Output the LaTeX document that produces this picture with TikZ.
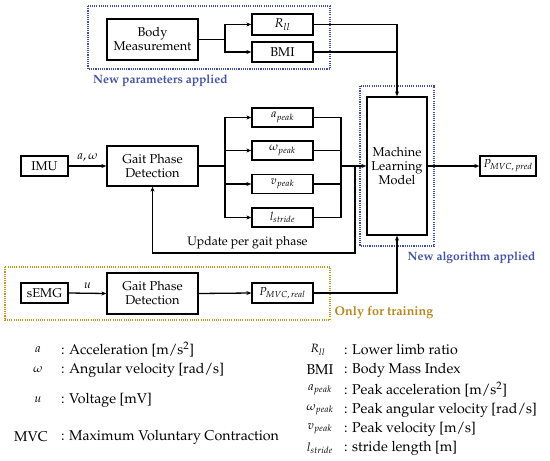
\documentclass[tikz,border=0pt]{standalone}
\usepackage[T1]{fontenc}
\usepackage{mathpazo}
\usetikzlibrary{arrows.meta}
\definecolor{bluedot}{HTML}{3F4FA8}
\definecolor{bluetxt}{HTML}{4455A8}
\definecolor{golddot}{HTML}{C4961E}
\definecolor{goldtxt}{HTML}{B8861A}
\tikzset{
  blk/.style={draw, line width=1.3pt, inner sep=0pt, align=center, font=\fontsize{12.8}{14}\selectfont},
  arr/.style={line width=1.3pt, -{Stealth[length=5pt,width=4pt]}},
  ln/.style={line width=1.3pt},
  bdot/.style={draw=bluedot, line width=1.4pt, dash pattern=on 1.1pt off 1.1pt},
  gdot/.style={draw=golddot, line width=1.4pt, dash pattern=on 1.1pt off 1.1pt},
  lbl/.style={font=\fontsize{12}{13}\selectfont, inner sep=0pt},
  grp/.style={font=\bfseries\fontsize{12}{13}\selectfont, inner sep=0pt},
  sym/.style={font=\fontsize{12}{13}\selectfont, inner sep=0pt},
  desc/.style={font=\fontsize{14.2}{15}\selectfont, inner sep=0pt, anchor=west},
}
\begin{document}
\begin{tikzpicture}[x=1pt,y=-1pt]
\useasboundingbox (0,0) rectangle (550,461);
% group frames
\draw[bdot] (88,6) rectangle (330,69);
\draw[bdot] (360,86) rectangle (434,246);
\draw[gdot] (5,267) rectangle (330,320);
\node[grp, text=bluetxt] (np) at (160.5,81) {New parameters applied};
\node[grp, text=bluetxt] (na) at (471.5,258) {New algorithm applied};
\node[grp, text=goldtxt, font=\bfseries\fontsize{12.6}{13}\selectfont] (ot) at (384,313) {Only for training};
% blocks
\node[blk, minimum width=91pt, minimum height=41pt] (bm) at (152.5,39.5) {Body\\Measurement};
\node[blk, minimum width=61pt, minimum height=21pt] (rll) at (282.5,24.5) {$R_{ll}$};
\node[blk, minimum width=61pt, minimum height=20pt] (bmi) at (282.5,52) {BMI};
\node[blk, minimum width=60pt, minimum height=138pt] (ml) at (397,166) {Machine\\Learning\\Model};
\node[blk, minimum width=56pt, minimum height=20pt, font=\fontsize{11.5}{13}\selectfont] (pp) at (508,166) {$P_{MVC,\,pred}$};
\node[blk, minimum width=61pt, minimum height=19pt, font=\fontsize{11.5}{13}\selectfont] (ap) at (282.5,117.5) {$a_{peak}$};
\node[blk, minimum width=61pt, minimum height=19pt, font=\fontsize{11.5}{13}\selectfont] (wp) at (282.5,150.5) {$\omega_{peak}$};
\node[blk, minimum width=61pt, minimum height=19pt, font=\fontsize{11.5}{13}\selectfont] (vp) at (282.5,184) {$v_{peak}$};
\node[blk, minimum width=61pt, minimum height=19pt, font=\fontsize{11.5}{13}\selectfont] (lp) at (282.5,217.5) {$l_{stride}$};
\node[blk, minimum width=47pt, minimum height=20pt] (imu) at (44.5,166) {IMU};
\node[blk, minimum width=91pt, minimum height=40pt] (g1) at (152.5,166) {Gait Phase\\Detection};
\node[blk, minimum width=47pt, minimum height=20pt] (semg) at (44.5,293) {sEMG};
\node[blk, minimum width=91pt, minimum height=41pt] (g2) at (152.5,293.5) {Gait Phase\\Detection};
\node[blk, minimum width=61pt, minimum height=20pt, font=\fontsize{11.5}{13}\selectfont] (pr) at (282.5,293) {$P_{MVC,\,real}$};
% coordinates
\coordinate (b1) at (225,39.5);
\coordinate (b2) at (225,166);
\coordinate (c1) at (341,166);
\coordinate (f1) at (355,166);
\coordinate (f2) at (355,253);
\coordinate (m1) at (397,24.5);
% body measurement branch
\draw[ln] (bm.east) -- (b1);
\draw[arr] (b1) |- (rll.west);
\draw[arr] (b1) |- (bmi.west);
\draw[arr] (rll.east) -- (m1) -- (ml.north);
\draw[ln] (bmi.east) -- (bmi.east -| m1);
% imu
\draw[arr] (imu.east) -- node[lbl, above=4pt] {$a,\omega$} (g1.west);
\draw[ln] (g1.east) -- (b2);
\draw[arr] (b2) |- (ap.west);
\draw[arr] (b2) |- (wp.west);
\draw[arr] (b2) |- (vp.west);
\draw[arr] (b2) |- (lp.west);
\draw[ln] (ap.east) -| (c1);
\draw[ln] (wp.east) -| (c1);
\draw[ln] (vp.east) -| (c1);
\draw[ln] (lp.east) -| (c1);
\draw[arr] (c1) -- (ml.west);
\draw[arr] (f1) -- (f2) -| (g1.south);
\node[lbl, font=\fontsize{12.3}{13}\selectfont] (up) at (247.5,243) {Update per gait phase};
\draw[arr] (ml.east) -- (pp.west);
% semg
\draw[arr] (semg.east) -- node[lbl, above=4pt] {$u$} (g2.west);
\draw[arr] (g2.east) -- (pr.west);
\draw[arr] (pr.east) -| (ml.south);
% legend
\node[sym] (la) at (38,350) {$a$};
\node[desc] (ta) at (61,350) {: Acceleration [m/s$^2$]};
\node[sym] (lw) at (38,370) {$\omega$};
\node[desc] (tw) at (61,370) {: Angular velocity [rad/s]};
\node[sym] (lu) at (38,400) {$u$};
\node[desc] (tu) at (61,400) {: Voltage [mV]};
\node[sym, font=\fontsize{14.2}{15}\selectfont] (lm) at (31,437) {MVC};
\node[desc] (tm) at (61,437) {: Maximum Voluntary Contraction};
\node[sym] (ra) at (318,350) {$R_{ll}$};
\node[desc] (rta) at (344,350) {: Lower limb ratio};
\node[sym, font=\fontsize{14.2}{15}\selectfont] (rb) at (320,370) {BMI};
\node[desc] (rtb) at (344,370) {: Body Mass Index};
\node[sym] (rc) at (320,390) {$a_{peak}$};
\node[desc] (rtc) at (344,390) {: Peak acceleration [m/s$^2$]};
\node[sym] (rd) at (320,410) {$\omega_{peak}$};
\node[desc] (rtd) at (344,410) {: Peak angular velocity [rad/s]};
\node[sym] (re) at (320,429) {$v_{peak}$};
\node[desc] (rte) at (344,429) {: Peak velocity [m/s]};
\node[sym] (rf) at (320,448) {$l_{stride}$};
\node[desc] (rtf) at (344,448) {: stride length [m]};
\end{tikzpicture}
\end{document}
